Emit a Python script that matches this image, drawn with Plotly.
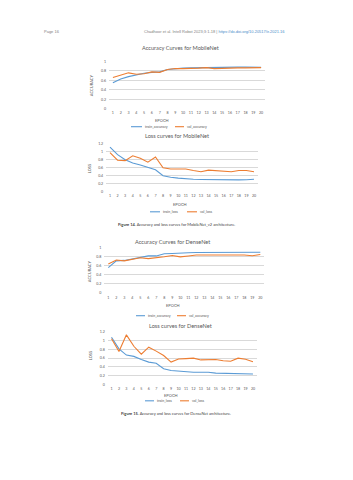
import plotly.graph_objects as go

W, H = 353, 480

epochs = list(range(1, 21))
epoch_labels = [str(e) for e in epochs]

mob_train_acc = [0.55, 0.63, 0.68, 0.72, 0.75, 0.77, 0.78, 0.83, 0.85, 0.86,
                 0.865, 0.87, 0.87, 0.875, 0.88, 0.88, 0.88, 0.88, 0.875, 0.875]
mob_val_acc = [0.66, 0.71, 0.76, 0.73, 0.74, 0.78, 0.77, 0.83, 0.85, 0.85,
               0.85, 0.86, 0.87, 0.85, 0.855, 0.865, 0.865, 0.865, 0.86, 0.87]
mob_train_loss = [1.12, 0.93, 0.80, 0.72, 0.67, 0.60, 0.55, 0.40, 0.36, 0.34,
                  0.32, 0.31, 0.305, 0.30, 0.295, 0.29, 0.29, 0.295, 0.30, 0.31]
mob_val_loss = [0.98, 0.79, 0.78, 0.90, 0.84, 0.74, 0.87, 0.60, 0.57, 0.57,
                0.57, 0.53, 0.50, 0.54, 0.53, 0.51, 0.50, 0.53, 0.53, 0.50]
den_train_acc = [0.56, 0.71, 0.72, 0.75, 0.79, 0.82, 0.82, 0.87, 0.875, 0.89,
                 0.89, 0.895, 0.895, 0.895, 0.90, 0.90, 0.90, 0.90, 0.90, 0.90]
den_val_acc = [0.64, 0.73, 0.71, 0.745, 0.78, 0.76, 0.775, 0.80, 0.83, 0.80,
               0.82, 0.84, 0.84, 0.84, 0.84, 0.845, 0.845, 0.84, 0.825, 0.85]
den_train_loss = [1.075, 0.81, 0.67, 0.64, 0.57, 0.51, 0.485, 0.36, 0.32, 0.305,
                  0.29, 0.28, 0.28, 0.28, 0.26, 0.255, 0.255, 0.26, 0.245, 0.24]
den_val_loss = [1.04, 0.75, 1.13, 0.87, 0.69, 0.85, 0.76, 0.66, 0.51, 0.58,
                0.59, 0.60, 0.56, 0.57, 0.57, 0.54, 0.53, 0.60, 0.575, 0.52]

acc_ticks = [0, 0.2, 0.4, 0.6, 0.8, 1]
acc_tick_text = ["0", "0.2", "0.4", "0.6", "0.8", "1"]
loss_ticks = [0, 0.2, 0.4, 0.6, 0.8, 1, 1.2]
loss_tick_text = ["0", "0.2", "0.4", "0.6", "0.8", "1", "1.2"]

BLUE = "#5B9BD5"
ORANGE = "#ED7D31"
TXT = "#595959"
GRID = "#D9D9D9"
FONT = "Lato"


def px(x):
    return x / W


def py(y):
    return 1 - y / H


charts = [
    dict(title="Accuracy Curves for MobileNet", ytitle="ACCURACY",
         a=mob_train_acc, b=mob_val_acc, la="train_accuracy", lb="val_accuracy",
         xd=(109, 265), yd=(59, 107), rng=(0, 1), ticks=acc_ticks, tt=acc_tick_text,
         tpos=(180, 45), ypos=(91, 83), epos=(162, 119), leg_y=125,
         leg=((131, 142, 143), (175, 184, 185))),
    dict(title="Loss curves for MobileNet", ytitle="LOSS",
         a=mob_train_loss, b=mob_val_loss, la="train_loss", lb="val_loss",
         xd=(106.2, 257.8), yd=(142.3, 190.7), rng=(0, 1.2), ticks=loss_ticks, tt=loss_tick_text,
         tpos=(177, 134), ypos=(89, 168), epos=(180, 204), leg_y=211,
         leg=((150, 160, 161), (187, 197, 198))),
    dict(title="Accuracy Curves for DenseNet", ytitle="ACCURACY",
         a=den_train_acc, b=den_val_acc, la="train_accuracy", lb="val_accuracy",
         xd=(104.3, 264.3), yd=(247.3, 293), rng=(0, 1), ticks=acc_ticks, tt=acc_tick_text,
         tpos=(172, 241), ypos=(89, 271), epos=(173, 306), leg_y=316,
         leg=((136, 145, 146), (177, 186, 187))),
    dict(title="Loss curves for DenseNet", ytitle="LOSS",
         a=den_train_loss, b=den_val_loss, la="train_loss", lb="val_loss",
         xd=(107.8, 256.7), yd=(332.1, 385.7), rng=(0, 1.2), ticks=loss_ticks, tt=loss_tick_text,
         tpos=(180, 326), ypos=(90, 357), epos=(171, 397), leg_y=402,
         leg=((145, 154, 155), (180, 189, 190))),
]

fig = go.Figure()
annotations = []
shapes = []
layout_axes = {}

for i, c in enumerate(charts, start=1):
    xa = "x" if i == 1 else f"x{i}"
    ya = "y" if i == 1 else f"y{i}"
    for vals, col, name in ((c["a"], BLUE, c["la"]), (c["b"], ORANGE, c["lb"])):
        fig.add_trace(go.Scatter(x=epochs, y=vals, mode="lines", name=name,
                                 line=dict(color=col, width=1.1),
                                 xaxis=xa, yaxis=ya, showlegend=False))
    xkey = "xaxis" if i == 1 else f"xaxis{i}"
    ykey = "yaxis" if i == 1 else f"yaxis{i}"
    layout_axes[xkey] = dict(domain=[px(c["xd"][0]), px(c["xd"][1])], range=[0.5, 20.5],
                             tickvals=epochs, ticktext=epoch_labels, showgrid=False,
                             zeroline=False, showline=False, anchor=ya,
                             tickfont=dict(size=3.6, color=TXT, family=FONT),
                             ticklabelstandoff=1, fixedrange=True)
    lo, hi = c["rng"]
    span = hi - lo
    layout_axes[ykey] = dict(domain=[py(c["yd"][1]), py(c["yd"][0])],
                             range=[lo - span * 0.002, hi + span * 0.002],
                             tickvals=c["ticks"], ticktext=c["tt"], showgrid=True,
                             gridcolor=GRID, gridwidth=0.6, zeroline=False, showline=False,
                             anchor=xa, tickfont=dict(size=3.6, color=TXT, family=FONT),
                             ticklabelstandoff=2, fixedrange=True)
    annotations.append(dict(text=c["title"], x=px(c["tpos"][0]), y=py(c["tpos"][1]),
                            xref="paper", yref="paper", showarrow=False,
                            xanchor="center", yanchor="middle",
                            font=dict(size=5.6, color=TXT, family=FONT)))
    annotations.append(dict(text=c["ytitle"], x=px(c["ypos"][0]), y=py(c["ypos"][1]),
                            xref="paper", yref="paper", showarrow=False, textangle=-90,
                            xanchor="center", yanchor="middle",
                            font=dict(size=4, color=TXT, family=FONT)))
    annotations.append(dict(text="EPOCH", x=px(c["epos"][0]), y=py(c["epos"][1]),
                            xref="paper", yref="paper", showarrow=False,
                            xanchor="center", yanchor="middle",
                            font=dict(size=4, color=TXT, family=FONT)))
    for (x0, x1, xt), col, name in zip(c["leg"], (BLUE, ORANGE), (c["la"], c["lb"])):
        shapes.append(dict(type="line", xref="paper", yref="paper",
                           x0=px(x0), x1=px(x1), y0=py(c["leg_y"]), y1=py(c["leg_y"]),
                           line=dict(color=col, width=1.1)))
        annotations.append(dict(text=name, x=px(xt), y=py(c["leg_y"]),
                                xref="paper", yref="paper", showarrow=False,
                                xanchor="left", yanchor="middle",
                                font=dict(size=3.6, color=TXT, family=FONT)))

# page header and figure captions
annotations.append(dict(text="Page 16", x=px(42), y=py(29), xref="paper", yref="paper",
                        showarrow=False, xanchor="left", yanchor="middle",
                        font=dict(size=4, color="#7f7f7f", family="Liberation Sans")))
annotations.append(dict(text="Chadhoor et al. Intell Robot 2023;3:1-18 | "
                             "<span style='color:#4a8cc7'>https://dx.doi.org/10.20517/ir.2021.16</span>",
                        x=px(142), y=py(29), xref="paper", yref="paper",
                        showarrow=False, xanchor="left", yanchor="middle",
                        font=dict(size=4, color="#7f7f7f", family="Liberation Sans")))
annotations.append(dict(text="<b>Figure 14.</b> Accuracy and loss curves for MobileNet_v2 architecture.",
                        x=px(176), y=py(224), xref="paper", yref="paper",
                        showarrow=False, xanchor="center", yanchor="middle",
                        font=dict(size=4, color="#404040", family=FONT)))
annotations.append(dict(text="<b>Figure 15.</b> Accuracy and loss curves for DenseNet architecture.",
                        x=px(176), y=py(415), xref="paper", yref="paper",
                        showarrow=False, xanchor="center", yanchor="middle",
                        font=dict(size=4, color="#404040", family=FONT)))

fig.update_layout(width=W, height=H, margin=dict(l=0, r=0, t=0, b=0, pad=0),
                  paper_bgcolor="white", plot_bgcolor="white",
                  annotations=annotations, shapes=shapes, showlegend=False,
                  **layout_axes)

fig.write_html("out.html", config={"displayModeBar": False})
